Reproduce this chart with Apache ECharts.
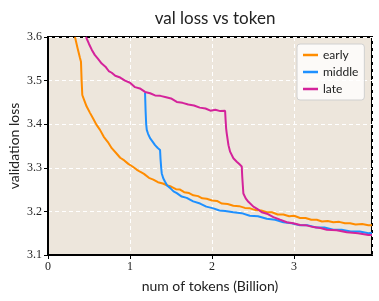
<!DOCTYPE html>
<html>
<head>
<meta charset="utf-8">
<script src="https://cdn.jsdelivr.net/npm/echarts@6/dist/echarts.min.js"></script>
<style>html,body{margin:0;padding:0;background:#fff;}#c{width:379px;height:301px;}</style>
</head>
<body>
<div id="c"></div>
<script>
const seriesNames = ['early', 'middle', 'late'];
const xTicks = [0, 1, 2, 3];
const yTicks = [3.1, 3.2, 3.3, 3.4, 3.5, 3.6];

const early = [[0.329,3.600],[0.36,3.575],[0.39,3.552],[0.402,3.543],[0.41,3.500],[0.418,3.467],[0.44,3.456],[0.47,3.441],[0.512,3.426],[0.55,3.413],[0.59,3.399],[0.634,3.387],[0.68,3.371],[0.73,3.359],[0.777,3.345],[0.83,3.334],[0.88,3.323],[0.93,3.317],[0.979,3.309],[1.03,3.303],[1.08,3.296],[1.122,3.291],[1.17,3.286],[1.23,3.277],[1.284,3.273],[1.34,3.267],[1.40,3.264],[1.448,3.260],[1.50,3.257],[1.56,3.251],[1.61,3.250],[1.66,3.244],[1.72,3.242],[1.772,3.237],[1.83,3.235],[1.88,3.230],[1.935,3.229],[2.0,3.225],[2.06,3.224],[2.12,3.218],[2.19,3.217],[2.26,3.213],[2.33,3.212],[2.40,3.208],[2.463,3.207],[2.53,3.203],[2.60,3.202],[2.667,3.198],[2.73,3.198],[2.80,3.193],[2.87,3.193],[2.94,3.189],[3.0,3.190],[3.073,3.185],[3.14,3.185],[3.21,3.181],[3.277,3.181],[3.34,3.177],[3.41,3.178],[3.479,3.175],[3.55,3.176],[3.62,3.173],[3.683,3.173],[3.75,3.170],[3.83,3.171],[3.906,3.168],[3.95,3.168]];

const middle = [[1.183,3.472],[1.19,3.430],[1.197,3.400],[1.204,3.387],[1.22,3.378],[1.244,3.368],[1.275,3.360],[1.305,3.352],[1.335,3.346],[1.366,3.341],[1.372,3.320],[1.38,3.300],[1.387,3.287],[1.405,3.276],[1.427,3.268],[1.455,3.259],[1.488,3.254],[1.53,3.246],[1.570,3.242],[1.63,3.234],[1.691,3.231],[1.77,3.223],[1.854,3.218],[1.93,3.211],[2.016,3.207],[2.09,3.202],[2.16,3.201],[2.26,3.198],[2.36,3.196],[2.46,3.190],[2.56,3.189],[2.667,3.183],[2.77,3.181],[2.87,3.175],[2.97,3.173],[3.073,3.168],[3.17,3.168],[3.27,3.163],[3.37,3.163],[3.479,3.158],[3.58,3.158],[3.69,3.154],[3.80,3.154],[3.906,3.150],[3.95,3.151]];

const late = [[0.463,3.600],[0.50,3.584],[0.533,3.571],[0.57,3.559],[0.61,3.550],[0.655,3.539],[0.70,3.532],[0.74,3.522],[0.777,3.518],[0.82,3.511],[0.88,3.507],[0.939,3.500],[1.0,3.495],[1.061,3.485],[1.12,3.482],[1.183,3.474],[1.245,3.471],[1.305,3.466],[1.37,3.465],[1.44,3.462],[1.50,3.459],[1.57,3.451],[1.64,3.449],[1.71,3.445],[1.78,3.443],[1.85,3.438],[1.92,3.436],[1.98,3.431],[2.04,3.433],[2.10,3.430],[2.159,3.431],[2.165,3.410],[2.172,3.390],[2.179,3.379],[2.20,3.352],[2.220,3.337],[2.26,3.322],[2.301,3.314],[2.335,3.308],[2.362,3.303],[2.368,3.280],[2.375,3.260],[2.382,3.241],[2.41,3.230],[2.443,3.222],[2.504,3.211],[2.55,3.206],[2.606,3.198],[2.68,3.194],[2.748,3.187],[2.829,3.181],[2.911,3.175],[2.99,3.173],[3.073,3.169],[3.15,3.168],[3.235,3.164],[3.32,3.162],[3.40,3.158],[3.52,3.157],[3.643,3.152],[3.78,3.150],[3.906,3.146],[3.95,3.146]];

const colors = ['#ff8c00', '#1e90ff', '#d4239b'];
const seriesData = [early, middle, late];

const chart = echarts.init(document.getElementById('c'), null, {renderer: 'canvas'});
const sans = 'Lato';
const serif = 'Liberation Serif';
chart.setOption({
  animation: false,
  backgroundColor: '#ffffff',
  title: {
    text: 'val loss vs token', left: 210, top: 5, textAlign: 'center',
    textStyle: {fontFamily: sans, fontSize: 17, fontWeight: 'normal', color: '#222'}
  },
  grid: {
    left: 48, right: 7, top: 37, bottom: 46, show: true, containLabel: false, outerBoundsMode: 'none',
    backgroundColor: '#ede6dc', borderColor: '#000', borderWidth: 2
  },
  legend: {
    data: seriesNames.map(n => ({name: n, icon: 'path://M0,0H15V2.5H0Z'})),
    orient: 'vertical', left: 297, top: 44,
    padding: [5, 6, 5, 6], itemGap: 5, itemWidth: 15, itemHeight: 12,
    backgroundColor: 'rgba(255,255,255,0.8)', borderColor: '#d0d0d0', borderWidth: 1, borderRadius: 3,
    textStyle: {fontFamily: sans, fontSize: 12, color: '#222'}
  },
  xAxis: {
    type: 'value', min: 0, max: 3.95, interval: 1,
    name: 'num of tokens (Billion)', nameLocation: 'middle', nameGap: 24, nameMoveOverlap: false,
    nameTextStyle: {fontFamily: sans, fontSize: 14, color: '#222'},
    axisLine: {show: true, lineStyle: {color: '#000', width: 2}},
    axisTick: {show: true, length: 4, lineStyle: {color: '#000', width: 1}},
    axisLabel: {fontFamily: serif, fontSize: 12, color: '#222', margin: 6, showMaxLabel: false,
      formatter: v => xTicks.includes(v) ? String(v) : ''},
    splitLine: {show: true, lineStyle: {color: '#ffffff', type: [4, 3], width: 1}}
  },
  yAxis: {
    type: 'value', min: 3.1, max: 3.6, interval: 0.1,
    name: 'validation loss', nameLocation: 'middle', nameGap: 27, nameMoveOverlap: false,
    nameTextStyle: {fontFamily: sans, fontSize: 14, color: '#222'},
    axisLine: {show: true, lineStyle: {color: '#000', width: 2}},
    axisTick: {show: true, length: 4, lineStyle: {color: '#000', width: 1}},
    axisLabel: {fontFamily: serif, fontSize: 12, color: '#222', margin: 6,
      formatter: v => { const t = yTicks.find(y => Math.abs(y - v) < 1e-6); return t === undefined ? '' : t.toFixed(1); }},
    splitLine: {show: true, lineStyle: {color: '#ffffff', type: [4, 3], width: 1}}
  },
  series: seriesNames.map((n, i) => ({
    name: n, type: 'line', data: seriesData[i], symbol: 'none', showSymbol: false,
    clip: true, lineStyle: {color: colors[i], width: 2}, itemStyle: {color: colors[i]}
  }))
});
</script>
</body>
</html>
